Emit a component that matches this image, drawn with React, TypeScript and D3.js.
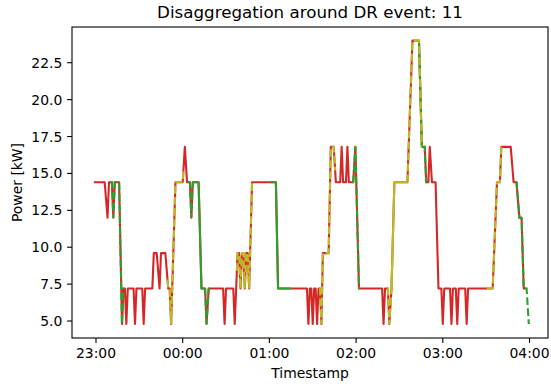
import React from "react";
import * as d3 from "d3";

// ---- data (minutes relative to 23:00, power in kW) ----
const minutes: number[] = [
  -1.5, 6, 8, 9, 11, 12, 13, 16, 18, 19, 20, 21, 22, 26, 27, 28, 32, 33, 34, 39, 40, 42, 44, 45, 48, 50, 51, 52, 55,
  60, 61.5, 63, 65, 66, 67, 71, 73, 75.5, 76.5, 78, 88, 89, 90, 95, 96, 97, 98, 99, 100, 101, 102, 103, 104, 105, 106,
  108, 124.5, 126, 146, 147, 148, 149, 150, 151, 152, 153, 154, 155, 156, 157, 161, 162.5, 164.5, 166, 169, 170, 171,
  173, 174, 175, 178, 179.5, 182, 198, 199, 200, 202, 203, 204.5, 206.5, 215.5, 219, 223.5, 225.5, 227.5, 228.5, 230,
  231, 232.5, 235, 237, 239, 240, 241, 245, 246, 247, 249, 250, 251, 255.5, 256.5, 257.5, 274.5, 277.5, 279.5, 280.5,
  287, 289, 291, 293, 294.5, 296, 298, 299.5,
];
const powerKW: number[] = [
  14.4, 14.4, 12.0, 14.4, 14.4, 12.0, 14.4, 14.4, 4.8, 7.2, 7.2, 4.8, 7.2, 7.2, 4.8, 7.2, 7.2, 4.8, 7.2, 7.2, 9.6, 9.6,
  7.2, 9.6, 9.6, 7.2, 7.2, 4.8, 14.4, 14.4, 16.8, 14.4, 14.4, 12.0, 14.4, 14.4, 7.2, 7.2, 4.8, 7.2, 7.2, 4.8, 7.2, 7.2,
  4.8, 7.2, 9.6, 9.6, 7.2, 9.6, 9.6, 7.2, 9.6, 9.6, 7.2, 14.4, 14.4, 7.2, 7.2, 4.8, 7.2, 7.2, 4.8, 7.2, 7.2, 4.8, 7.2,
  7.2, 4.8, 9.6, 9.6, 16.8, 16.8, 14.4, 14.4, 16.8, 14.4, 14.4, 16.8, 14.4, 14.4, 16.8, 7.2, 7.2, 4.8, 7.2, 7.2, 4.8,
  7.2, 14.4, 14.4, 24.0, 24.0, 16.8, 16.8, 14.4, 14.4, 16.8, 14.4, 14.4, 7.2, 7.2, 4.8, 7.2, 7.2, 4.8, 7.2, 7.2, 4.8,
  7.2, 7.2, 4.8, 7.2, 7.2, 14.4, 14.4, 16.8, 16.8, 14.4, 14.4, 12.0, 12.0, 7.2, 7.2, 4.8,
];
const actualEnd = 298;

// overlay spans [start, end] in minutes
const greenSolidSpans: [number, number][] = [[67, 75.5], [120.5, 135], [223.5, 226]];
const oliveSolidSpans: [number, number][] = [[204.5, 215.5]];
const dashedSpans: { c: "green" | "olive"; s: number; e: number }[] = [
  { c: "green", s: 10, e: 19.5 },
  { c: "olive", s: 49.5, e: 60.5 },
  { c: "green", s: 63.5, e: 67.5 },
  { c: "green", s: 75.5, e: 78.5 },
  { c: "olive", s: 97.5, e: 108.5 },
  { c: "olive", s: 154.5, e: 165.5 },
  { c: "green", s: 177.5, e: 182.5 },
  { c: "olive", s: 201.5, e: 205 },
  { c: "olive", s: 215.5, e: 226 },
  { c: "green", s: 225.5, e: 229 },
  { c: "olive", s: 270.5, e: 280.5 },
  { c: "green", s: 290.5, e: 299.5 },
];

const yTicks = [5.0, 7.5, 10.0, 12.5, 15.0, 17.5, 20.0, 22.5];
const title = "Disaggregation around DR event: 11";

const COLORS = { red: "#d62728", green: "#2ca02c", olive: "#bcbd22" };
const BASE = Date.UTC(2021, 0, 1, 23, 0, 0);
const toDate = (m: number) => new Date(BASE + m * 60000);

const W = 551, H = 387;
const L = 72, R = 548, T = 27, B = 338;
const FONT = "DejaVu Sans, sans-serif";
const FS = 13.9;

function interp(t: number): number {
  for (let i = 0; i < minutes.length - 1; i++) {
    if (t >= minutes[i] && t <= minutes[i + 1]) {
      const f = (t - minutes[i]) / (minutes[i + 1] - minutes[i]);
      return powerKW[i] + f * (powerKW[i + 1] - powerKW[i]);
    }
  }
  return powerKW[powerKW.length - 1];
}
function span(s: number, e: number): [number, number][] {
  const pts: [number, number][] = [[s, interp(s)]];
  minutes.forEach((m, i) => {
    if (m > s && m < e) pts.push([m, powerKW[i]]);
  });
  pts.push([e, interp(e)]);
  return pts;
}

export default function App() {
  const x = d3.scaleUtc().domain([toDate(-16.6), toDate(312.8)]).range([L, R]);
  const y = d3.scaleLinear().domain([3.85, 24.92]).range([B, T]);
  const line = d3
    .line<[number, number]>()
    .x((d) => x(toDate(d[0])))
    .y((d) => y(d[1]));
  const xTicks = x.ticks(d3.utcHour.every(1) as any);
  const fmt = d3.utcFormat("%H:%M");
  const redPath = line(span(minutes[0], actualEnd)) || "";

  return (
    <svg width={W} height={H} style={{ position: "absolute", left: 0, top: 0, background: "#fff" }} fontFamily={FONT}>
      <rect x={0} y={0} width={W} height={H} fill="#fff" />
      <path d={redPath} fill="none" stroke={COLORS.red} strokeWidth={2.1} strokeLinejoin="round" />
      {greenSolidSpans.map(([s, e], i) => (
        <path key={"gs" + i} d={line(span(s, e)) || ""} fill="none" stroke={COLORS.green} strokeWidth={2.1} strokeLinejoin="round" />
      ))}
      {oliveSolidSpans.map(([s, e], i) => (
        <path key={"os" + i} d={line(span(s, e)) || ""} fill="none" stroke={COLORS.olive} strokeWidth={2.1} strokeLinejoin="round" />
      ))}
      {dashedSpans.map((d, i) => (
        <path
          key={"ds" + i}
          d={line(span(d.s, d.e)) || ""}
          fill="none"
          stroke={COLORS[d.c]}
          strokeWidth={2.1}
          strokeDasharray="7.7 3.3"
        />
      ))}
      {/* spines */}
      <rect x={L} y={T} width={R - L} height={B - T} fill="none" stroke="#000" strokeWidth={1.1} />
      {/* x ticks */}
      {xTicks.map((t, i) => (
        <g key={"xt" + i}>
          <line x1={x(t)} x2={x(t)} y1={B} y2={B + 4.9} stroke="#000" strokeWidth={1.1} />
          <text x={x(t)} y={358} fontSize={FS} textAnchor="middle" fill="#000">
            {fmt(t)}
          </text>
        </g>
      ))}
      {/* y ticks */}
      {yTicks.map((v, i) => (
        <g key={"yt" + i}>
          <line x1={L - 4.9} x2={L} y1={y(v)} y2={y(v)} stroke="#000" strokeWidth={1.1} />
          <text x={L - 9.7} y={y(v) + 5} fontSize={FS} textAnchor="end" fill="#000">
            {v.toFixed(1)}
          </text>
        </g>
      ))}
      <text x={(L + R) / 2} y={378} fontSize={FS} textAnchor="middle" fill="#000">
        Timestamp
      </text>
      <text transform={`translate(21.5,${(T + B) / 2}) rotate(-90)`} fontSize={FS} textAnchor="middle" fill="#000">
        Power [kW]
      </text>
      <text x={(L + R) / 2} y={18} fontSize={16.7} textAnchor="middle" fill="#000">
        {title}
      </text>
    </svg>
  );
}
